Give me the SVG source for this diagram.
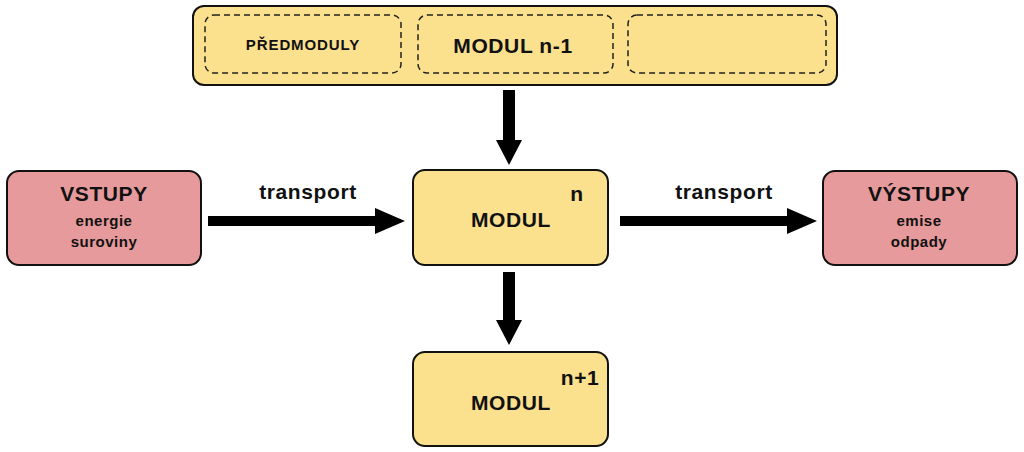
<svg xmlns="http://www.w3.org/2000/svg" width="1024" height="452" viewBox="0 0 1024 452">
<style>
.box{stroke:#111;stroke-width:2}
.y{fill:#fbe08e}
.p{fill:#e69a9b}
.dash{fill:none;stroke:#222;stroke-width:1.5;stroke-dasharray:6 4}
text{font-family:"Liberation Sans",Arial,sans-serif;font-weight:bold;fill:#111;text-anchor:middle}
.big{font-size:21px;letter-spacing:0.6px}
.sm{font-size:15px;letter-spacing:0.5px}
.pm{font-size:15px;letter-spacing:0.9px}
</style>
<rect width="1024" height="452" fill="#fff"/>
<g id="predmoduly">
<rect class="box y" x="193" y="6" width="644" height="79" rx="11"/>
<rect class="dash" x="205" y="15" width="196" height="58" rx="9"/>
<rect class="dash" x="418" y="15" width="195" height="58" rx="9"/>
<rect class="dash" x="628" y="15" width="198" height="58" rx="9"/>
<text class="pm" x="303" y="50">PŘEDMODULY</text>
<text class="big" x="513" y="53">MODUL n-1</text>
</g>
<g id="vstupy">
<rect class="box p" x="7" y="171" width="194" height="94" rx="12"/>
<text class="big" x="104" y="201">VSTUPY</text>
<text class="sm" x="104" y="226">energie</text>
<text class="sm" x="104" y="247">suroviny</text>
</g>
<g id="modul-n">
<rect class="box y" x="413" y="170" width="195" height="95" rx="12"/>
<text class="big" x="511" y="227">MODUL</text>
<text class="big" x="577" y="201">n</text>
</g>
<g id="vystupy">
<rect class="box p" x="823" y="171" width="194" height="94" rx="12"/>
<text class="big" x="919" y="201">VÝSTUPY</text>
<text class="sm" x="919" y="226">emise</text>
<text class="sm" x="919" y="247">odpady</text>
</g>
<g id="modul-n1">
<rect class="box y" x="413" y="352" width="195" height="94" rx="12"/>
<text class="big" x="511" y="410">MODUL</text>
<text class="big" x="580" y="385">n+1</text>
</g>
<g id="connectors" fill="#000">
<polygon points="503,90 515,90 515,140 522,140 509,165 496,140 503,140"/>
<polygon points="503,272 515,272 515,320 522,320 509,345 496,320 503,320"/>
<polygon points="208,216 375,216 375,208 405,221 375,234 375,226 208,226"/>
<polygon points="620,216 787,216 787,208 817,221 787,234 787,226 620,226"/>
<text class="big" x="308" y="199">transport</text>
<text class="big" x="724" y="199">transport</text>
</g>
</svg>
